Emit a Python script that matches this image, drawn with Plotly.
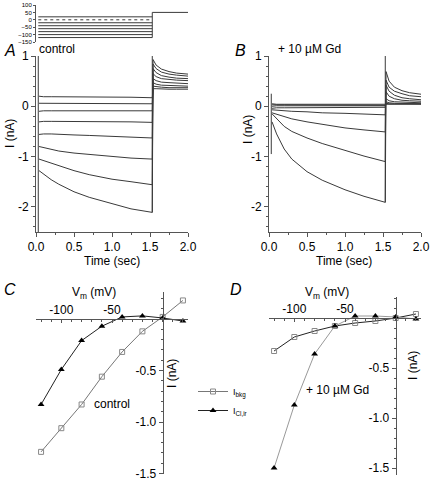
import plotly.graph_objects as go

W, H = 432, 483
def px(x): return x / W
def py(y): return 1 - y / H

FONT = "Liberation Sans, Arial, sans-serif"
LC = "#3a3a3a"
AX = "#555"

# ---------------- data ----------------
# voltage protocol (inset)
t_pulse = [0.03, 1.53]
v_steps = [20, 0, -20, -40, -60, -80, -100, -120]
t_post = [1.53, 2.0]
v_post = 50

# current traces, time points (sec)
t_step = [0.04, 0.1, 0.2, 0.3, 0.5, 0.7, 1.0, 1.25, 1.53]
t_tail = [1.54, 1.58, 1.65, 1.75, 1.85, 2.0]

# Panel A (control), ordered +20 ... -120 mV
A_step = [
    [0.20, 0.19, 0.19, 0.19, 0.19, 0.18, 0.18, 0.18, 0.17],
    [0.06, 0.06, 0.05, 0.05, 0.05, 0.05, 0.05, 0.05, 0.05],
    [-0.10, -0.09, -0.09, -0.09, -0.09, -0.09, -0.09, -0.09, -0.09],
    [-0.31, -0.30, -0.30, -0.30, -0.30, -0.31, -0.31, -0.31, -0.32],
    [-0.56, -0.55, -0.55, -0.56, -0.57, -0.58, -0.60, -0.61, -0.63],
    [-0.80, -0.82, -0.86, -0.89, -0.93, -0.96, -1.00, -1.03, -1.05],
    [-1.05, -1.08, -1.14, -1.19, -1.28, -1.36, -1.45, -1.50, -1.56],
    [-1.28, -1.35, -1.46, -1.55, -1.70, -1.81, -1.94, -2.04, -2.11],
]
A_tail = [
    [0.35, 0.35, 0.34, 0.34, 0.34, 0.34],
    [0.40, 0.39, 0.38, 0.37, 0.37, 0.37],
    [0.47, 0.44, 0.42, 0.41, 0.40, 0.40],
    [0.55, 0.51, 0.48, 0.47, 0.46, 0.45],
    [0.65, 0.59, 0.55, 0.53, 0.52, 0.51],
    [0.75, 0.67, 0.61, 0.58, 0.56, 0.55],
    [0.84, 0.75, 0.68, 0.64, 0.62, 0.60],
    [0.93, 0.82, 0.74, 0.69, 0.66, 0.64],
]
A_transient_t = [[0.03, 0.03], [1.53, 1.53]]
A_transient_i = [[1.0, -2.5], [-2.11, 1.0]]

# Panel B (+10 uM Gd)
B_step = [
    [0.05, 0.04, 0.04, 0.04, 0.04, 0.04, 0.04, 0.04, 0.04],
    [0.03, 0.03, 0.03, 0.02, 0.02, 0.02, 0.02, 0.02, 0.02],
    [0.00, 0.01, 0.01, 0.01, 0.01, 0.01, 0.01, 0.01, 0.01],
    [-0.04, -0.03, -0.03, -0.03, -0.03, -0.02, -0.02, -0.02, -0.02],
    [-0.07, -0.08, -0.09, -0.10, -0.11, -0.13, -0.14, -0.15, -0.17],
    [-0.13, -0.16, -0.21, -0.25, -0.31, -0.36, -0.43, -0.47, -0.51],
    [-0.15, -0.25, -0.40, -0.50, -0.63, -0.74, -0.88, -0.99, -1.10],
    [-0.31, -0.55, -0.85, -1.05, -1.30, -1.47, -1.66, -1.79, -1.91],
]
B_tail = [
    [0.04, 0.04, 0.04, 0.04, 0.04, 0.04],
    [0.06, 0.05, 0.05, 0.05, 0.05, 0.05],
    [0.09, 0.07, 0.06, 0.06, 0.05, 0.05],
    [0.15, 0.11, 0.09, 0.08, 0.07, 0.07],
    [0.29, 0.20, 0.15, 0.12, 0.11, 0.10],
    [0.42, 0.30, 0.22, 0.17, 0.15, 0.13],
    [0.52, 0.38, 0.30, 0.25, 0.21, 0.19],
    [0.69, 0.50, 0.38, 0.31, 0.27, 0.24],
]
B_transient_t = [[0.03, 0.03], [1.53, 1.53]]
B_transient_i = [[0.25, -0.95], [-1.91, 1.0]]

# I-V relations
vm = [-120, -100, -80, -60, -40, -20, 0, 20]
C_bkg = [-1.29, -1.06, -0.83, -0.56, -0.32, -0.12, 0.02, 0.18]
C_clir = [-0.83, -0.49, -0.21, -0.07, 0.02, 0.03, 0.01, -0.02]
D_bkg = [-0.33, -0.19, -0.13, -0.08, -0.05, -0.03, 0.00, 0.04]
D_clir = [-1.50, -0.87, -0.36, -0.08, 0.02, 0.02, 0.01, -0.01]

# tick labels
inset_ticks = [-150, -100, -50, 0, 50, 100]
time_tickvals = [0, 0.5, 1, 1.5, 2]
time_ticktext = ["0.0", "0.5", "1.0", "1.5", "2.0"]
i_tickvals = [-2, -1, 0, 1]
i_ticktext = ["-2", "-1", "0", "1"]
vm_tickvals = [-100, -50]
vm_ticktext = ["-100", "-50"]
iv_tickvals = [-1.5, -1, -0.5]
iv_ticktext = ["-1.5", "-1.0", "-0.5"]

# ---------------- figure ----------------
fig = go.Figure()

# inset protocol
for v in v_steps:
    fig.add_trace(go.Scatter(x=t_pulse, y=[v, v], mode="lines",
                             line=dict(color=LC, width=1, dash="dot" if v == 0 else "solid"),
                             xaxis="x", yaxis="y", showlegend=False, hoverinfo="skip"))
fig.add_trace(go.Scatter(x=t_post, y=[v_post, v_post], mode="lines", line=dict(color=LC, width=1),
                         xaxis="x", yaxis="y", showlegend=False))
fig.add_trace(go.Scatter(x=[t_post[0], t_post[0]], y=[min(v_steps), v_post], mode="lines",
                         line=dict(color=LC, width=1), xaxis="x", yaxis="y", showlegend=False))

def add_traces(steps, tails, tr_t, tr_i, xa, ya):
    for s, tl in zip(steps, tails):
        fig.add_trace(go.Scatter(x=t_step + t_tail, y=s + tl, mode="lines",
                                 line=dict(color=LC, width=1), xaxis=xa, yaxis=ya,
                                 showlegend=False))
    for tt, ii in zip(tr_t, tr_i):
        fig.add_trace(go.Scatter(x=tt, y=ii, mode="lines", line=dict(color=LC, width=1),
                                 xaxis=xa, yaxis=ya, showlegend=False))

add_traces(A_step, A_tail, A_transient_t, A_transient_i, "x2", "y2")
add_traces(B_step, B_tail, B_transient_t, B_transient_i, "x3", "y3")

sq = dict(symbol="square-open", size=5, color="#888", line=dict(width=1, color="#888"))
tri = dict(symbol="triangle-up", size=6, color="black")

fig.add_trace(go.Scatter(x=vm, y=C_bkg, mode="lines+markers", name="I<sub>bkg</sub>",
                         line=dict(color="#777", width=1), marker=sq, xaxis="x4", yaxis="y4"))
fig.add_trace(go.Scatter(x=vm, y=C_clir, mode="lines+markers", name="I<sub>Cl,ir</sub>",
                         line=dict(color="#222", width=1), marker=tri, xaxis="x4", yaxis="y4"))
fig.add_trace(go.Scatter(x=vm, y=D_bkg, mode="lines+markers", showlegend=False,
                         line=dict(color="#222", width=1), marker=sq, xaxis="x5", yaxis="y5"))
fig.add_trace(go.Scatter(x=vm, y=D_clir, mode="lines+markers", showlegend=False,
                         line=dict(color="#999", width=1), marker=tri, xaxis="x5", yaxis="y5"))

base = dict(showline=True, linecolor=AX, linewidth=1, ticks="outside", ticklen=4,
            tickcolor=AX, showgrid=False, zeroline=False, automargin=False,
            tickfont=dict(family=FONT, size=12, color="black"))

xA = [px(36), px(188)]
xB = [px(269), px(421)]
yAB = [py(232), py(56)]

time_ticks = dict(tickvals=time_tickvals, ticktext=time_ticktext,
                  minor=dict(dtick=0.25, ticklen=2, ticks="outside", tickcolor=AX))
i_ticks = dict(tickvals=i_tickvals, ticktext=i_ticktext,
               minor=dict(dtick=0.2, ticklen=2, ticks="outside", tickcolor=AX))

layout = dict(
    width=W, height=H, margin=dict(l=0, r=0, t=0, b=0, pad=0), autosize=False,
    paper_bgcolor="white", plot_bgcolor="white",
    font=dict(family=FONT, color="black"),
    xaxis=dict(domain=xA, range=[0, 2], visible=False, anchor="y", automargin=False),
    yaxis=dict(domain=[py(42), py(5)], range=[-150, 100], anchor="x",
               tickvals=inset_ticks, **{**base, "ticklen": 2,
               "tickfont": dict(family=FONT, size=6, color="black")}),
    xaxis2=dict(domain=xA, range=[0, 2], anchor="y2", **base, **time_ticks),
    yaxis2=dict(domain=yAB, range=[-2.5, 1], anchor="x2", **base, **i_ticks),
    xaxis3=dict(domain=xB, range=[0, 2], anchor="y3", **base, **time_ticks),
    yaxis3=dict(domain=yAB, range=[-2.5, 1], anchor="x3", **base, **i_ticks),
    xaxis4=dict(domain=xA, range=[-125, 25], anchor="free", position=0.3395, side="top",
                **{**base, "ticks": "inside", "ticklen": 3},
                tickvals=vm_tickvals, ticktext=vm_ticktext,
                minor=dict(dtick=10, ticklen=2, ticks="inside", tickcolor=AX)),
    yaxis4=dict(domain=[py(473.5), py(292)], range=[-1.5, 0.262], anchor="free",
                position=0.3765, **base,
                tickvals=iv_tickvals, ticktext=iv_ticktext,
                minor=dict(dtick=0.1, ticklen=2, ticks="outside", tickcolor=AX)),
    xaxis5=dict(domain=xB, range=[-125, 25], anchor="free", position=0.3416, side="top",
                **{**base, "ticks": "inside", "ticklen": 3},
                tickvals=vm_tickvals, ticktext=vm_ticktext,
                minor=dict(dtick=10, ticklen=2, ticks="inside", tickcolor=AX)),
    yaxis5=dict(domain=[py(475), py(297)], range=[-1.57, 0.21], anchor="free",
                position=0.9159, **base,
                tickvals=iv_tickvals, ticktext=iv_ticktext,
                minor=dict(dtick=0.1, ticklen=2, ticks="outside", tickcolor=AX)),
    legend=dict(x=px(193), y=py(377), xanchor="left", yanchor="top",
                font=dict(family=FONT, size=9), itemwidth=30, tracegroupgap=0,
                bgcolor="rgba(0,0,0,0)"),
)
fig.update_layout(**layout)

def ann(x, y, text, size=12, italic=False, angle=0, xanchor="center"):
    fig.add_annotation(x=px(x), y=py(y), xref="paper", yref="paper", text=text,
                       showarrow=False, textangle=angle, xanchor=xanchor, yanchor="middle",
                       font=dict(family=FONT, size=size, color="black",
                                 style="italic" if italic else "normal"))

ann(10, 50, "A", 16, True)
ann(37, 49, "control", 12, xanchor="left")
ann(240, 50, "B", 16, True)
ann(276, 49, "+ 10 µM Gd", 12, xanchor="left")
ann(112, 261, "Time (sec)", 12)
ann(344, 261, "Time (sec)", 12)
ann(10, 134, "I (nA)", 12, angle=-90)
ann(248, 130, "I (nA)", 12, angle=-90)
ann(10, 289, "C", 16, True)
ann(236, 289, "D", 16, True)
ann(94, 293, "V<sub>m</sub> (mV)", 12)
ann(327, 293, "V<sub>m</sub> (mV)", 12)
ann(172, 374, "I (nA)", 12, angle=-90)
ann(413, 366, "I (nA)", 12, angle=-90)
ann(112, 404, "control", 12)
ann(337, 390, "+ 10 µM Gd", 12)

fig.write_html(
    "out.html",
    config={"displayModeBar": False},
    post_script="document.body.style.margin='0';document.body.style.padding='0';"
                "document.body.style.overflow='hidden';",
)
